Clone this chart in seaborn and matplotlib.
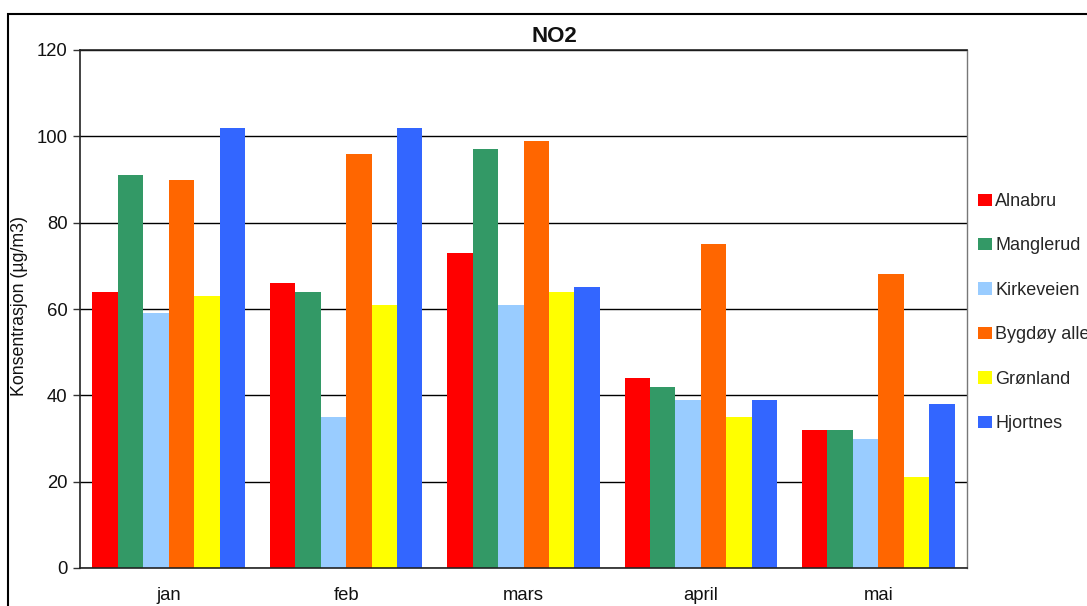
import matplotlib
matplotlib.use("Agg")
import matplotlib.pyplot as plt
import matplotlib.patches as mpatches
import numpy as np
import pandas as pd
import seaborn as sns

# Datos
months = ["jan", "feb", "mars", "april", "mai"]
stations = ["Alnabru", "Manglerud", "Kirkeveien", "Bygdøy alle", "Grønland", "Hjortnes"]
alnabru = [64, 66, 73, 44, 32]
manglerud = [91, 64, 97, 42, 32]
kirkeveien = [59, 35, 61, 39, 30]
bygdoy = [90, 96, 99, 75, 68]
gronland = [63, 61, 64, 35, 21]
hjortnes = [102, 102, 65, 39, 38]
yticks = [0, 20, 40, 60, 80, 100, 120]

colors = ["#FF0000", "#339966", "#99CCFF", "#FF6600", "#FFFF00", "#3366FF"]

series = [alnabru, manglerud, kirkeveien, bygdoy, gronland, hjortnes]
rows = []
for name, vals in zip(stations, series):
    for m, v in zip(months, vals):
        rows.append({"month": m, "station": name, "value": v})
df = pd.DataFrame(rows)

sns.set_theme(style="white")
plt.rcParams["font.family"] = ["Liberation Sans", "DejaVu Sans"]

W, H = 1087, 606
fig = plt.figure(figsize=(W / 100, H / 100), dpi=100)
ax = fig.add_axes([80 / W, 1 - 568 / H, (967 - 80) / W, (568 - 50) / H])

sns.barplot(
    data=df, x="month", y="value", hue="station",
    order=months, hue_order=stations, palette=colors,
    saturation=1, width=0.86, ax=ax, legend=True,
)
for p in ax.patches:
    p.set_linewidth(0)

ax.set_xlim(-0.5, len(months) - 0.5)
ax.set_ylim(0, 120)
ax.set_yticks(yticks)
ax.set_axisbelow(True)
ax.yaxis.grid(True, color="black", linewidth=1)
ax.set_xlabel("")
ax.set_ylabel("")

# Marcas del eje x entre categorías
ax.set_xticks(np.arange(-0.5, len(months), 1.0), minor=True)
ax.tick_params(axis="x", which="major", length=0, labelsize=13.3, pad=14, colors="#111111")
ax.tick_params(axis="x", which="minor", length=6, width=1, direction="inout", color="#333333")
ax.tick_params(axis="y", which="major", length=5, width=1, direction="out",
               left=True, labelsize=13.3, pad=4, color="#333333", labelcolor="#111111")

for side in ["left", "bottom", "top"]:
    ax.spines[side].set_color("#222222")
    ax.spines[side].set_linewidth(1.2)
ax.spines["right"].set_color("#777777")
ax.spines["right"].set_linewidth(1)

# La leyenda queda recortada en el borde derecho, igual que en el original
handles, labels = ax.get_legend_handles_labels()
ax.legend(
    handles, labels, loc="upper left",
    bbox_to_anchor=(978 / W, 1 - 193 / H), bbox_transform=fig.transFigure,
    frameon=False, fontsize=13, handlelength=0.78, handleheight=0.67,
    handletextpad=0.17, labelspacing=1.52, borderpad=0, borderaxespad=0,
)

fig.text(554 / W, 1 - 36 / H, "NO2", ha="center", va="center",
         fontsize=16, fontweight="bold", color="#111111")
fig.text(20 / W, 1 - 306 / H, "Konsentrasjon (µg/m3)", rotation=90,
         ha="center", va="center", fontsize=12.8, color="#111111")

# Marco exterior del gráfico
frame = mpatches.Rectangle((8 / W, -0.1), 1.2, (1 - 14 / H) + 0.1,
                           transform=fig.transFigure, fill=False,
                           edgecolor="black", linewidth=1.5, clip_on=False)
fig.patches.append(frame)

fig.savefig("out.png", dpi=100)
